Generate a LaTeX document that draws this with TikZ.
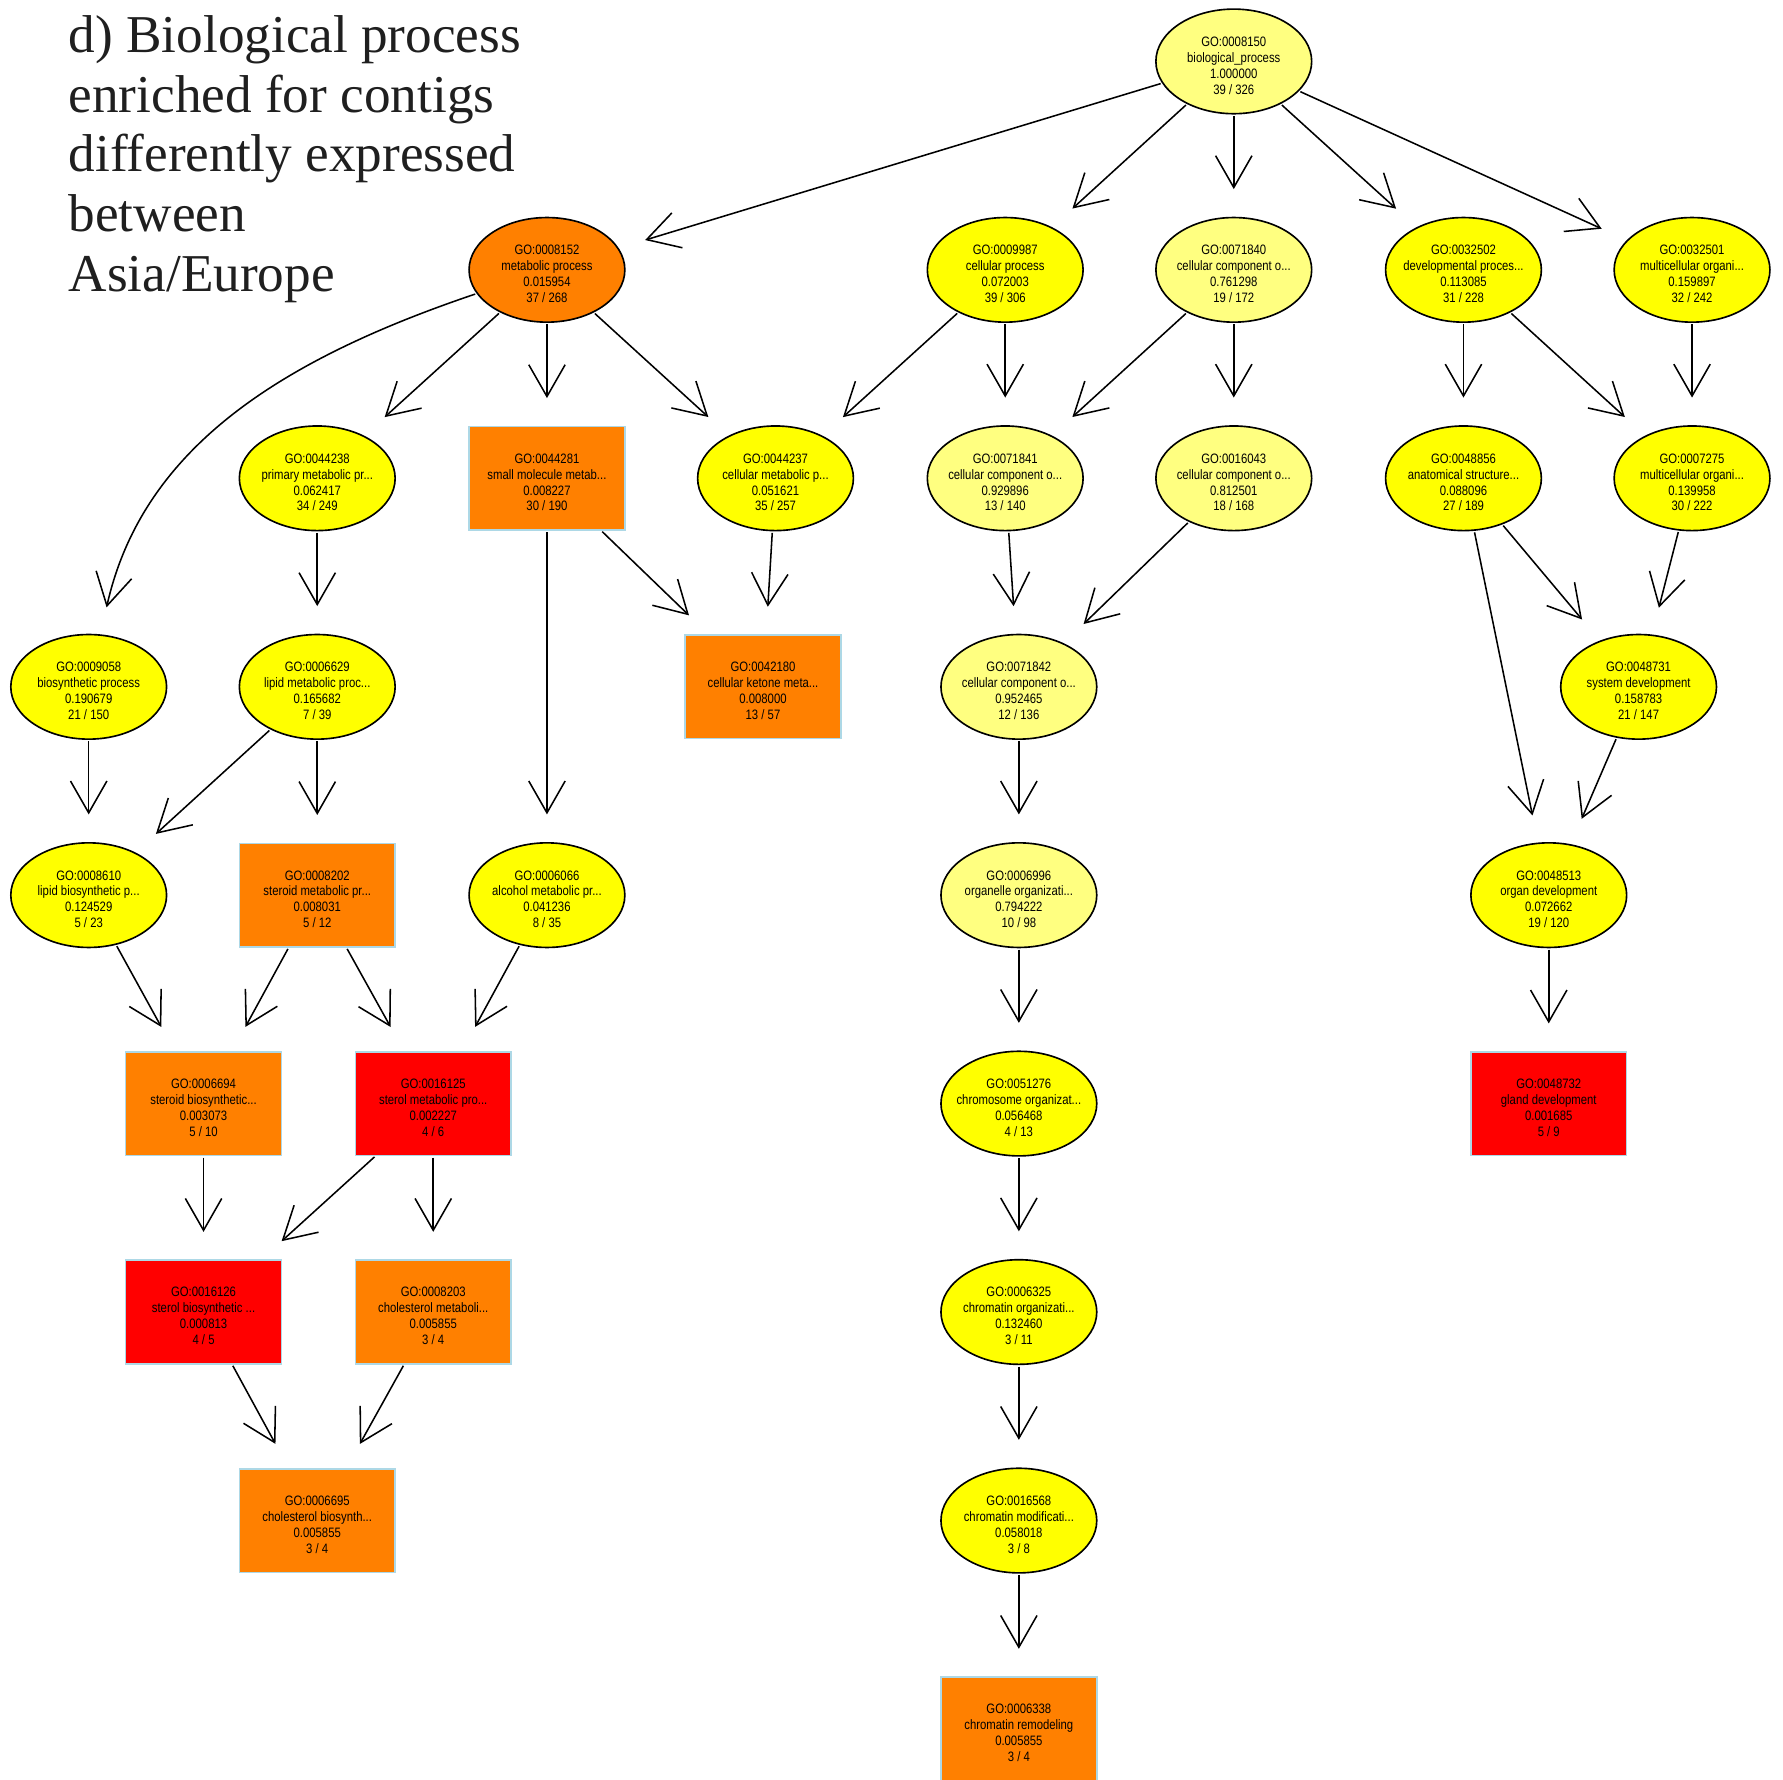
\documentclass[tikz,border=0pt]{standalone}
\usepackage{fontspec}
\newfontfamily\nodefont[FakeStretch=0.83]{Liberation Sans}
\newfontfamily\titlefont{Liberation Serif}
\usetikzlibrary{arrows.meta,shapes.geometric}
\definecolor{paleY}{HTML}{FFFF80}
\definecolor{yelY}{HTML}{FFFF00}
\definecolor{ornO}{HTML}{FF8000}
\definecolor{redR}{HTML}{FF0000}
\definecolor{boxline}{HTML}{ADD8E6}
% shape node (named #2) plus its text node (named #2t)
\newcommand\gonode[4]{%
  \node[#1] (#2) at (#3) {};
  \node[gotext] (#2t) at ([yshift=-1.8pt]#2.center) {#4};}
\begin{document}
\begin{tikzpicture}[x=0.5pt,y=-0.5pt,
  gotext/.style={font=\nodefont\fontsize{6pt}{7pt}\selectfont, align=center, text=black, inner sep=0pt, outer sep=0pt},
  ell/.style={ellipse, draw=black, line width=0.72pt, inner sep=0pt, outer sep=0pt, minimum width=68.5pt, minimum height=46pt},
  rect/.style={rectangle, draw=boxline, line width=0.72pt, inner sep=0pt, outer sep=0pt, minimum width=68.5pt, minimum height=45.5pt},
  pale/.style={ell, fill=paleY},
  yel/.style={ell, fill=yelY},
  orell/.style={ell, fill=ornO},
  orbox/.style={rect, fill=ornO},
  redbox/.style={rect, fill=redR},
  goarrow/.style={draw=black, line width=0.68pt, -{Straight Barb[length=14pt,width=16pt]}, shorten >=12.5pt, shorten <=1pt},
  titleline/.style={anchor=base west, inner sep=0pt, font=\titlefont\fontsize{23.4pt}{26.25pt}\selectfont, text=black!88}
]
\useasboundingbox (0,0) rectangle (1568,1564.5);
\fill[white] (0,0) rectangle (1568,1564.5);

% title
\node[titleline] (t1) at (60,46) {d) Biological process};
\node[titleline] (t2) at (60,98.5) {enriched for contigs};
\node[titleline] (t3) at (60,151) {differently expressed};
\node[titleline] (t4) at (60,203.5) {between};
\node[titleline] (t5) at (60,256) {Asia/Europe};

% row 1
\gonode{pale}{n8150}{1085,54}{GO:0008150\\biological\_process\\1.000000\\39 / 326}
% row 2
\gonode{orell}{n8152}{481,237.3}{GO:0008152\\metabolic process\\0.015954\\37 / 268}
\gonode{yel}{n9987}{884,237.3}{GO:0009987\\cellular process\\0.072003\\39 / 306}
\gonode{pale}{n71840}{1085,237.3}{GO:0071840\\cellular component o...\\0.761298\\19 / 172}
\gonode{yel}{n32502}{1287,237.3}{GO:0032502\\developmental proces...\\0.113085\\31 / 228}
\gonode{yel}{n32501}{1488,237.3}{GO:0032501\\multicellular organi...\\0.159897\\32 / 242}
% row 3
\gonode{yel}{n44238}{279,420.6}{GO:0044238\\primary metabolic pr...\\0.062417\\34 / 249}
\gonode{orbox}{n44281}{481,420.6}{GO:0044281\\small molecule metab...\\0.008227\\30 / 190}
\gonode{yel}{n44237}{682,420.6}{GO:0044237\\cellular metabolic p...\\0.051621\\35 / 257}
\gonode{pale}{n71841}{884,420.6}{GO:0071841\\cellular component o...\\0.929896\\13 / 140}
\gonode{pale}{n16043}{1085,420.6}{GO:0016043\\cellular component o...\\0.812501\\18 / 168}
\gonode{yel}{n48856}{1287,420.6}{GO:0048856\\anatomical structure...\\0.088096\\27 / 189}
\gonode{yel}{n7275}{1488,420.6}{GO:0007275\\multicellular organi...\\0.139958\\30 / 222}
% row 4
\gonode{yel}{n9058}{78,604}{GO:0009058\\biosynthetic process\\0.190679\\21 / 150}
\gonode{yel}{n6629}{279,604}{GO:0006629\\lipid metabolic proc...\\0.165682\\7 / 39}
\gonode{orbox}{n42180}{671,604}{GO:0042180\\cellular ketone meta...\\0.008000\\13 / 57}
\gonode{pale}{n71842}{896,604}{GO:0071842\\cellular component o...\\0.952465\\12 / 136}
\gonode{yel}{n48731}{1441,604}{GO:0048731\\system development\\0.158783\\21 / 147}
% row 5
\gonode{yel}{n8610}{78,787.2}{GO:0008610\\lipid biosynthetic p...\\0.124529\\5 / 23}
\gonode{orbox}{n8202}{279,787.2}{GO:0008202\\steroid metabolic pr...\\0.008031\\5 / 12}
\gonode{yel}{n6066}{481,787.2}{GO:0006066\\alcohol metabolic pr...\\0.041236\\8 / 35}
\gonode{pale}{n6996}{896,787.2}{GO:0006996\\organelle organizati...\\0.794222\\10 / 98}
\gonode{yel}{n48513}{1362,787.2}{GO:0048513\\organ development\\0.072662\\19 / 120}
% row 6
\gonode{orbox}{n6694}{179,970.5}{GO:0006694\\steroid biosynthetic...\\0.003073\\5 / 10}
\gonode{redbox}{n16125}{381,970.5}{GO:0016125\\sterol metabolic pro...\\0.002227\\4 / 6}
\gonode{yel}{n51276}{896,970.5}{GO:0051276\\chromosome organizat...\\0.056468\\4 / 13}
\gonode{redbox}{n48732}{1362,970.5}{GO:0048732\\gland development\\0.001685\\5 / 9}
% row 7
\gonode{redbox}{n16126}{179,1153.8}{GO:0016126\\sterol biosynthetic ...\\0.000813\\4 / 5}
\gonode{orbox}{n8203}{381,1153.8}{GO:0008203\\cholesterol metaboli...\\0.005855\\3 / 4}
\gonode{yel}{n6325}{896,1153.8}{GO:0006325\\chromatin organizati...\\0.132460\\3 / 11}
% row 8
\gonode{orbox}{n6695}{279,1337.2}{GO:0006695\\cholesterol biosynth...\\0.005855\\3 / 4}
\gonode{yel}{n16568}{896,1337.2}{GO:0016568\\chromatin modificati...\\0.058018\\3 / 8}
% row 9
\gonode{orbox}{n6338}{896,1520.5}{GO:0006338\\chromatin remodeling\\0.005855\\3 / 4}

% edges
\draw[goarrow] (n8150) -- (n8152);
\draw[goarrow] (n8150) -- (n9987);
\draw[goarrow] (n8150) -- (n71840);
\draw[goarrow] (n8150) -- (n32502);
\draw[goarrow] (n8150) -- (n32501);
\draw[goarrow] (n8152) .. controls (245,317) and (125,395) .. (n9058);
\draw[goarrow] (n8152) -- (n44238);
\draw[goarrow] (n8152) -- (n44281);
\draw[goarrow] (n8152) -- (n44237);
\draw[goarrow] (n9987) -- (n44237);
\draw[goarrow] (n9987) -- (n71841);
\draw[goarrow] (n71840) -- (n71841);
\draw[goarrow] (n71840) -- (n16043);
\draw[goarrow] (n32502) -- (n48856);
\draw[goarrow] (n32502) -- (n7275);
\draw[goarrow] (n32501) -- (n7275);
\draw[goarrow] (n44238) -- (n6629);
\draw[goarrow] (n44281) -- (n6066);
\draw[goarrow] (n44281) -- (n42180);
\draw[goarrow] (n44237) -- (n42180);
\draw[goarrow] (n71841) -- (n71842);
\draw[goarrow] (n16043) -- (n71842);
\draw[goarrow] (n48856) -- (n48731);
\draw[goarrow] (n48856) -- (n48513);
\draw[goarrow] (n7275) -- (n48731);
\draw[goarrow] (n9058) -- (n8610);
\draw[goarrow] (n6629) -- (n8610);
\draw[goarrow] (n6629) -- (n8202);
\draw[goarrow] (n48731) -- (n48513);
\draw[goarrow] (n71842) -- (n6996);
\draw[goarrow] (n8610) -- (n6694);
\draw[goarrow] (n8202) -- (n6694);
\draw[goarrow] (n8202) -- (n16125);
\draw[goarrow] (n6066) -- (n16125);
\draw[goarrow] (n6996) -- (n51276);
\draw[goarrow] (n48513) -- (n48732);
\draw[goarrow] (n6694) -- (n16126);
\draw[goarrow] (n16125) -- (n16126);
\draw[goarrow] (n16125) -- (n8203);
\draw[goarrow] (n51276) -- (n6325);
\draw[goarrow] (n16126) -- (n6695);
\draw[goarrow] (n8203) -- (n6695);
\draw[goarrow] (n6325) -- (n16568);
\draw[goarrow] (n16568) -- (n6338);
\end{tikzpicture}
\end{document}
